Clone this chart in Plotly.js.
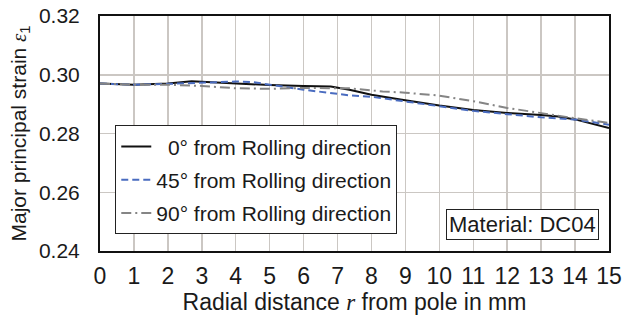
<!DOCTYPE html>
<html>
<head>
<meta charset="utf-8">
<script src="https://cdn.plot.ly/plotly-3.0.1.min.js"></script>
<style>html,body{margin:0;padding:0;background:#fff;}#chart{width:622px;height:322px;}</style>
</head>
<body>
<div id="chart"></div>
<script>
// Radial distance r in mm
const r0 = [0, 1, 2, 2.7, 3, 4, 5, 6, 6.8, 7.35, 8, 8.9, 10, 11, 12, 13, 13.5, 14, 15];
const strain0 = [0.2970, 0.2966, 0.2970, 0.2978, 0.2976, 0.2970, 0.2965, 0.2962, 0.2960, 0.2949, 0.2932, 0.2915, 0.2895, 0.2880, 0.2870, 0.2863, 0.2858, 0.2848, 0.2819];

const r45 = [0, 1, 2, 3, 4, 4.5, 5, 6, 7, 7.35, 8, 9, 10, 11, 12, 13, 14, 15];
const strain45 = [0.2970, 0.2966, 0.2969, 0.2973, 0.2977, 0.2975, 0.2966, 0.2949, 0.2935, 0.2930, 0.2925, 0.2910, 0.2893, 0.2877, 0.2865, 0.2855, 0.2848, 0.2830];

const r90 = [0, 1, 2, 3, 4, 5, 6, 7, 7.35, 8.33, 9, 10, 11, 12, 13, 14, 15];
const strain90 = [0.2970, 0.2966, 0.2966, 0.2962, 0.2954, 0.2952, 0.2955, 0.2956, 0.2954, 0.2943, 0.2939, 0.2929, 0.2910, 0.2887, 0.2869, 0.2852, 0.2836];

const names = ["\u00a0\u00a00° from Rolling direction", "45° from Rolling direction", "90° from Rolling direction"];
const xTicks = [0,1,2,3,4,5,6,7,8,9,10,11,12,13,14,15];
const yTicks = [0.24, 0.26, 0.28, 0.30, 0.32];
const yTickText = ["0.24", "0.26", "0.28", "0.30", "0.32"];

const font = "Arial, 'Liberation Sans', sans-serif";

const traces = [
  {x: r0, y: strain0, name: names[0], mode: "lines", legendgroup: "a",
   line: {color: "#111111", width: 2}},
  {x: r45, y: strain45, name: names[1], mode: "lines", legendgroup: "b",
   line: {color: "#4a6cc0", width: 2, dash: "7px,4px"}},
  {x: r90, y: strain90, name: names[2], mode: "lines", legendgroup: "c",
   line: {color: "#858585", width: 2, dash: "10px,4px,2px,4px"}}
];

const layout = {
  width: 622, height: 322,
  margin: {l: 100, r: 13, t: 16, b: 71},
  paper_bgcolor: "#ffffff", plot_bgcolor: "#ffffff",
  font: {family: font, color: "#1a1a1a", size: 20},
  showlegend: true,
  legend: {
    x: 0.03, y: 0.535, xanchor: "left", yanchor: "top",
    bgcolor: "#ffffff", bordercolor: "#222222", borderwidth: 1,
    font: {family: font, size: 21, color: "#1a1a1a"},
    traceorder: "grouped", tracegroupgap: 3
  },
  xaxis: {
    range: [0, 15], tickvals: xTicks, ticktext: xTicks.map(String),
    showgrid: true, gridcolor: "#cbc7c3", gridwidth: 1.5,
    zeroline: false, showline: true, linecolor: "#111111", linewidth: 2, mirror: true,
    ticks: "", ticklabelstandoff: 3, tickfont: {family: font, size: 23, color: "#1a1a1a"},
    title: {text: "Radial distance <i><span style=\"font-family:'Liberation Serif',serif\">r</span></i> from pole in mm",
            font: {family: font, size: 23, color: "#1a1a1a"}, standoff: 2}
  },
  yaxis: {
    range: [0.24, 0.32], tickvals: yTicks, ticktext: yTickText,
    showgrid: true, gridcolor: "#cbc7c3", gridwidth: 1.5,
    zeroline: false, showline: true, linecolor: "#111111", linewidth: 2, mirror: true,
    ticks: "", ticklabelstandoff: 14, tickfont: {family: font, size: 21, color: "#1a1a1a"},
    title: {text: "Major principal strain <span style=\"font-family:'Liberation Serif',serif\"><i>ε</i></span><sub>1</sub>",
            font: {family: font, size: 21, color: "#1a1a1a"}, standoff: 7}
  },
  annotations: [{
    xref: "paper", yref: "paper", x: 0.831, y: 0.113, xanchor: "center", yanchor: "middle",
    text: "Material: DC04", showarrow: false,
    font: {family: font, size: 22, color: "#1a1a1a"},
    bgcolor: "#ffffff", bordercolor: "#222222", borderwidth: 1, borderpad: 2
  }]
};

Plotly.newPlot("chart", traces, layout, {displayModeBar: false, staticPlot: true});
</script>
</body>
</html>
